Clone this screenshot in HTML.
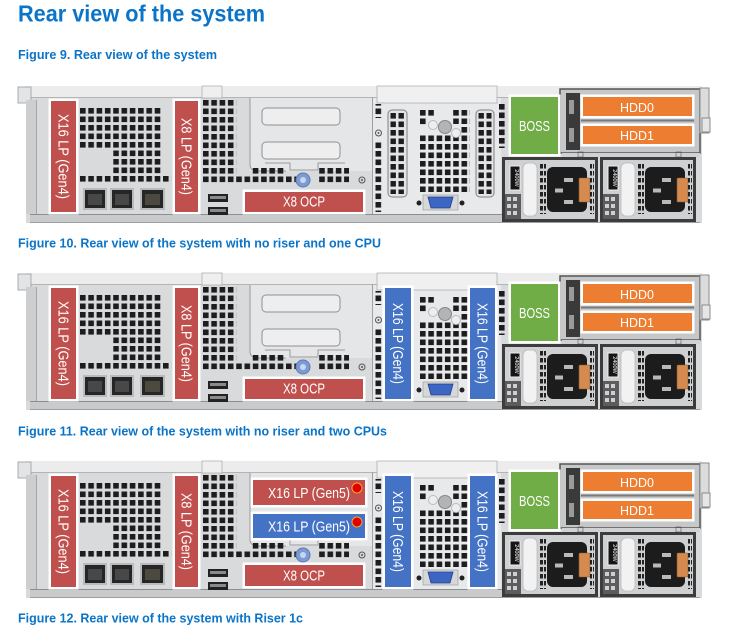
<!DOCTYPE html>
<html><head><meta charset="utf-8">
<style>
html,body{margin:0;padding:0;background:#fff;}
svg{display:block;}
</style></head><body>
<svg width="734" height="627" viewBox="0 0 734 627" xmlns="http://www.w3.org/2000/svg" xmlns:xlink="http://www.w3.org/1999/xlink" font-family="'Liberation Sans', sans-serif">
<defs>
<pattern id="p1" x="80" y="108" width="8.3" height="8.5" patternUnits="userSpaceOnUse"><rect width="5.6" height="5.6" fill="#1d1d1d"/></pattern>
<pattern id="p2" x="203" y="100" width="8.3" height="8.5" patternUnits="userSpaceOnUse"><rect width="5.6" height="5.6" fill="#1d1d1d"/></pattern>
<pattern id="p3" x="420" y="110" width="8.3" height="8.5" patternUnits="userSpaceOnUse"><rect width="5.6" height="5.6" fill="#1d1d1d"/></pattern>
<pattern id="p4" x="375.5" y="100" width="8.3" height="8.5" patternUnits="userSpaceOnUse"><rect width="5.6" height="5.6" fill="#1d1d1d"/></pattern>
<pattern id="p5" x="499" y="104" width="8.3" height="8.5" patternUnits="userSpaceOnUse"><rect width="5.6" height="5.6" fill="#1d1d1d"/></pattern>
<pattern id="p6" x="390.5" y="113" width="8" height="8.5" patternUnits="userSpaceOnUse"><rect width="5.4" height="5.6" fill="#1d1d1d"/></pattern>
<pattern id="p7" x="478.5" y="113" width="8" height="8.5" patternUnits="userSpaceOnUse"><rect width="5.4" height="5.6" fill="#1d1d1d"/></pattern>
<pattern id="pp" x="0" y="164" width="7" height="7" patternUnits="userSpaceOnUse"><rect width="6" height="4.5" fill="#222"/></pattern>

<g id="psu">
  <rect x="0" y="157" width="96" height="65" fill="#3c3c3d"/>
  <rect x="3" y="160" width="90" height="59" fill="#cfd0d2"/>
  <rect x="3" y="194" width="16" height="25" fill="#5c5c5e"/>
  <rect x="5" y="197" width="4" height="4" fill="#cfcfcf"/><rect x="11" y="197" width="4" height="4" fill="#cfcfcf"/>
  <rect x="5" y="204" width="4" height="4" fill="#cfcfcf"/><rect x="11" y="204" width="4" height="4" fill="#cfcfcf"/>
  <rect x="5" y="211" width="4" height="4" fill="#cfcfcf"/><rect x="11" y="211" width="4" height="4" fill="#cfcfcf"/>
  <rect x="8" y="166" width="10" height="24" fill="#151515" stroke="#eeeeee" stroke-width="1"/>
  <rect x="21" y="163" width="14" height="53" rx="5" fill="#f2f2f3" stroke="#b9babc" stroke-width="0.8"/>
  <rect x="38" y="164" width="6" height="50" fill="url(#pp)"/>
  <rect x="45" y="167" width="40" height="45" rx="6" fill="#1c1c1c"/>
  <rect x="62" y="178" width="9" height="4" fill="#b9b9b9"/>
  <rect x="53" y="188.5" width="8" height="4" fill="#b9b9b9"/>
  <rect x="62" y="200" width="9" height="4" fill="#b9b9b9"/>
  <rect x="77" y="178" width="11" height="24" rx="1" fill="#d58b4f" stroke="#8a5a30" stroke-width="0.6"/>
  <rect x="88" y="164" width="4" height="50" fill="url(#pp)"/>
</g>

<g id="ch">
  <!-- body -->
  <rect x="26" y="86" width="676" height="137" fill="#d9dadc"/>
  <rect x="26" y="86" width="676" height="11" fill="#ececed"/>
  <line x1="26" y1="97.5" x2="560" y2="97.5" stroke="#b3b4b6"/>
  <rect x="18" y="87" width="13" height="16" fill="#e3e4e5" stroke="#9a9b9d" stroke-width="0.8"/>
  <rect x="202" y="86" width="20" height="12" fill="#efeff0" stroke="#a8a9ab" stroke-width="0.7"/>
  <rect x="26" y="100" width="10" height="114" fill="#cdced0"/>
  <line x1="36.5" y1="100" x2="36.5" y2="214" stroke="#a5a6a8"/>
  <rect x="30" y="214" width="475" height="9" fill="#c9cacc"/>
  <line x1="30" y1="214.5" x2="505" y2="214.5" stroke="#8d8e90"/>
  <line x1="30" y1="222.5" x2="700" y2="222.5" stroke="#9d9ea0"/>

  <!-- grille 1 -->
  <rect x="80" y="108" width="83" height="42.5" fill="url(#p1)"/>
  <rect x="113.2" y="150.5" width="49.8" height="25.5" fill="url(#p1)"/>
  <rect x="55.1" y="176" width="116" height="6" fill="url(#p1)"/>

  <!-- ethernet -->
  <rect x="83" y="188" width="24" height="22" fill="#b9babc"/>
  <rect x="85" y="190" width="20" height="18" fill="#262626"/>
  <rect x="88" y="194" width="14" height="11" fill="#484848"/>
  <rect x="110" y="188" width="24" height="22" fill="#b9babc"/>
  <rect x="112" y="190" width="20" height="18" fill="#262626"/>
  <rect x="115" y="194" width="14" height="11" fill="#484848"/>
  <rect x="140" y="188" width="25" height="22" fill="#b9babc"/>
  <rect x="142" y="190" width="21" height="18" fill="#262626"/>
  <rect x="145" y="194" width="15" height="11" fill="#4c4a3e"/>

  <!-- grille 2 -->
  <rect x="203" y="100" width="33.2" height="76.5" fill="url(#p2)"/>
  <rect x="203" y="176.5" width="97" height="6" fill="url(#p2)"/>
  <rect x="319" y="176.5" width="30" height="6" fill="url(#p2)"/>

  <!-- usb -->
  <rect x="208" y="194" width="20" height="8" fill="#222"/>
  <rect x="210" y="196" width="16" height="3" fill="#8a8a8a"/>
  <rect x="208" y="207" width="20" height="8" fill="#222"/>
  <rect x="210" y="209" width="16" height="3" fill="#8a8a8a"/>

  <!-- riser cage -->
  <rect x="250" y="98" width="122" height="73" fill="#e5e6e7"/>
  <path d="M250 98 V164 Q250 171 257 171 H286" fill="none" stroke="#9a9b9d"/>
  <rect x="262" y="108" width="78" height="17" rx="4" fill="#eeeeef" stroke="#8f9092"/>
  <rect x="262" y="142" width="78" height="17" rx="4" fill="#eeeeef" stroke="#8f9092"/>
  <path d="M265 163 H290 V170 H318 V163 H345" fill="none" stroke="#9a9b9d"/>
  <rect x="251" y="168" width="34" height="6" fill="url(#p2)"/>
  <rect x="319" y="168" width="30" height="6" fill="url(#p2)"/>
  <circle cx="303" cy="180" r="7" fill="#7d9bd3" stroke="#5a7ab8"/>
  <circle cx="303" cy="180" r="3" fill="#c8d6f0"/>
  <circle cx="362" cy="180" r="3" fill="none" stroke="#555"/>
  <circle cx="362" cy="180" r="1" fill="#555"/>

  <!-- middle section -->
  <rect x="373" y="98" width="128" height="116" fill="#e8e9ea"/>
  <line x1="372.5" y1="97" x2="372.5" y2="214" stroke="#a0a1a3"/>
  <rect x="377" y="86" width="120" height="17" fill="#f0f0f1" stroke="#b0b1b3" stroke-width="0.8"/>
  <rect x="375.5" y="104" width="6" height="14" fill="url(#p4)"/>
  <circle cx="378.5" cy="133" r="3" fill="none" stroke="#555"/>
  <circle cx="378.5" cy="133" r="1" fill="#555"/>
  <rect x="375.5" y="142" width="6" height="70" fill="url(#p4)"/>
  <rect x="388" y="110" width="19" height="87" rx="4" fill="#e3e4e5" stroke="#7f8082"/>
  <rect x="390.5" y="113" width="14" height="81" fill="url(#p6)"/>
  <rect x="476" y="110" width="18" height="87" rx="4" fill="#e3e4e5" stroke="#7f8082"/>
  <rect x="478.5" y="113" width="13" height="81" fill="url(#p7)"/>
  <!-- middle grille -->
  <rect x="420" y="135.5" width="50" height="56.5" fill="url(#p3)"/>
  <rect x="420" y="110" width="6" height="17" fill="url(#p3)"/>
  <rect x="428" y="110" width="6" height="6" fill="url(#p3)"/>
  <rect x="453" y="110" width="17" height="14" fill="url(#p3)"/>
  <rect x="461" y="127" width="9" height="6" fill="url(#p3)"/>
  <circle cx="433" cy="125" r="4.5" fill="#eeeeef" stroke="#bbbbbd"/>
  <circle cx="456" cy="133" r="4.5" fill="#eeeeef" stroke="#bbbbbd"/>
  <circle cx="445" cy="127" r="6.5" fill="#b3b4b6" stroke="#858688"/>
  <rect x="423" y="195" width="35" height="15" fill="#d6d7d9" stroke="#a0a0a2" stroke-width="0.7"/>
  <path d="M428 197 L453 197 L450 208 L431 208 Z" fill="#3d66c4" stroke="#1f3f8a" stroke-width="0.8"/>
  <circle cx="419" cy="203" r="2.5" fill="#222"/>
  <circle cx="462" cy="203" r="2.5" fill="#222"/>
  <rect x="499" y="104" width="6" height="44" fill="url(#p5)"/>

  <!-- right section -->
  <rect x="560" y="89" width="140" height="64" fill="#c6c7c9" stroke="#555" stroke-width="1.5"/>
  <rect x="566" y="93" width="14" height="57" fill="#3a3a3b"/>
  <rect x="569" y="100" width="5" height="14" fill="#9a9a9a"/>
  <rect x="569" y="128" width="5" height="14" fill="#9a9a9a"/>
  <rect x="562" y="153" width="138" height="4" fill="#d0d1d3"/>
  <rect x="578" y="152" width="5" height="5" fill="none" stroke="#555" stroke-width="0.6"/>
  <rect x="676" y="152" width="5" height="5" fill="none" stroke="#555" stroke-width="0.6"/>
  <rect x="700" y="88" width="9" height="45" fill="#dcdcdd" stroke="#8a8b8d"/>
  <rect x="702" y="118" width="8" height="14" fill="#e6e6e7" stroke="#8a8b8d"/>
  <use xlink:href="#psu" href="#psu" transform="translate(502,0)"/>
  <use xlink:href="#psu" href="#psu" transform="translate(600,0)"/>
</g>
</defs>

<!-- Title -->
<text x="18" y="21.5" font-size="23" font-weight="bold" fill="#0a74c8" textLength="247" lengthAdjust="spacingAndGlyphs">Rear view of the system</text>

<text x="18" y="59" font-size="12.5" font-weight="bold" fill="#0a74c8" textLength="199" lengthAdjust="spacingAndGlyphs">Figure 9. Rear view of the system</text>
<text x="18" y="247.5" font-size="12.5" font-weight="bold" fill="#0a74c8" textLength="363" lengthAdjust="spacingAndGlyphs">Figure 10. Rear view of the system with no riser and one CPU</text>
<text x="18" y="435.5" font-size="12.5" font-weight="bold" fill="#0a74c8" textLength="369" lengthAdjust="spacingAndGlyphs">Figure 11. Rear view of the system with no riser and two CPUs</text>
<text x="18" y="622.5" font-size="12.5" font-weight="bold" fill="#0a74c8" textLength="285" lengthAdjust="spacingAndGlyphs">Figure 12. Rear view of the system with Riser 1c</text>

<!-- ================= Figure 9 ================= -->
<g>
  <use xlink:href="#ch" href="#ch"/>
  <rect x="48.5" y="98.5" width="30" height="116" fill="#fff"/>
  <rect x="51" y="101" width="25" height="111" fill="#c0504d"/>
  <text x="63.5" y="161.5" font-size="15" fill="#fff" text-anchor="middle" textLength="85" lengthAdjust="spacingAndGlyphs" transform="rotate(90 63.5 156.5)">X16 LP (Gen4)</text>
  <rect x="172.5" y="98.5" width="28" height="116" fill="#fff"/>
  <rect x="175" y="101" width="23" height="111" fill="#c0504d"/>
  <text x="186.5" y="161.5" font-size="15" fill="#fff" text-anchor="middle" textLength="77" lengthAdjust="spacingAndGlyphs" transform="rotate(90 186.5 156.5)">X8 LP (Gen4)</text>
  <rect x="242.5" y="189.5" width="123" height="25" fill="#fff"/>
  <rect x="245" y="192" width="118" height="20" fill="#c0504d"/>
  <text x="304" y="206.5" font-size="15" fill="#fff" text-anchor="middle" textLength="42" lengthAdjust="spacingAndGlyphs">X8 OCP</text>
  <rect x="508.5" y="94.5" width="52" height="62" fill="#fff"/>
  <rect x="511" y="97" width="47" height="57" fill="#70ad47"/>
  <text x="534.5" y="131" font-size="15" fill="#fff" text-anchor="middle" textLength="31" lengthAdjust="spacingAndGlyphs">BOSS</text>
  <rect x="580.5" y="94.5" width="114" height="24" fill="#fff"/>
  <rect x="583" y="97" width="109" height="19" fill="#ed7d31"/>
  <text x="637" y="112" font-size="13" fill="#fff" text-anchor="middle" textLength="34" lengthAdjust="spacingAndGlyphs">HDD0</text>
  <rect x="580.5" y="123.5" width="114" height="23" fill="#fff"/>
  <rect x="583" y="126" width="109" height="18" fill="#ed7d31"/>
  <text x="637" y="140" font-size="13" fill="#fff" text-anchor="middle" textLength="34" lengthAdjust="spacingAndGlyphs">HDD1</text>
  <line x1="581" y1="120.5" x2="694" y2="120.5" stroke="#7a7a7a" stroke-width="2"/>
  <text x="0" y="0" font-size="5.5" fill="#fff" text-anchor="middle" transform="translate(515,178) rotate(90)">2400W</text>
  <text x="0" y="0" font-size="5.5" fill="#fff" text-anchor="middle" transform="translate(613,178) rotate(90)">2400W</text>
</g>

<!-- ================= Figure 10 ================= -->
<g transform="translate(0,187)">
  <use xlink:href="#ch" href="#ch"/>
  <rect x="48.5" y="98.5" width="30" height="116" fill="#fff"/>
  <rect x="51" y="101" width="25" height="111" fill="#c0504d"/>
  <text x="63.5" y="161.5" font-size="15" fill="#fff" text-anchor="middle" textLength="85" lengthAdjust="spacingAndGlyphs" transform="rotate(90 63.5 156.5)">X16 LP (Gen4)</text>
  <rect x="172.5" y="98.5" width="28" height="116" fill="#fff"/>
  <rect x="175" y="101" width="23" height="111" fill="#c0504d"/>
  <text x="186.5" y="161.5" font-size="15" fill="#fff" text-anchor="middle" textLength="77" lengthAdjust="spacingAndGlyphs" transform="rotate(90 186.5 156.5)">X8 LP (Gen4)</text>
  <rect x="242.5" y="189.5" width="123" height="25" fill="#fff"/>
  <rect x="245" y="192" width="118" height="20" fill="#c0504d"/>
  <text x="304" y="206.5" font-size="15" fill="#fff" text-anchor="middle" textLength="42" lengthAdjust="spacingAndGlyphs">X8 OCP</text>
  <rect x="382.5" y="98.5" width="31" height="116" fill="#fff"/>
  <rect x="385" y="101" width="26" height="111" fill="#4472c4"/>
  <text x="398" y="161.5" font-size="15" fill="#fff" text-anchor="middle" textLength="81" lengthAdjust="spacingAndGlyphs" transform="rotate(90 398 156.5)">X16 LP (Gen4)</text>
  <rect x="467.5" y="98.5" width="30" height="116" fill="#fff"/>
  <rect x="470" y="101" width="25" height="111" fill="#4472c4"/>
  <text x="482.5" y="161.5" font-size="15" fill="#fff" text-anchor="middle" textLength="81" lengthAdjust="spacingAndGlyphs" transform="rotate(90 482.5 156.5)">X16 LP (Gen4)</text>
  <rect x="508.5" y="94.5" width="52" height="62" fill="#fff"/>
  <rect x="511" y="97" width="47" height="57" fill="#70ad47"/>
  <text x="534.5" y="131" font-size="15" fill="#fff" text-anchor="middle" textLength="31" lengthAdjust="spacingAndGlyphs">BOSS</text>
  <rect x="580.5" y="94.5" width="114" height="24" fill="#fff"/>
  <rect x="583" y="97" width="109" height="19" fill="#ed7d31"/>
  <text x="637" y="112" font-size="13" fill="#fff" text-anchor="middle" textLength="34" lengthAdjust="spacingAndGlyphs">HDD0</text>
  <rect x="580.5" y="123.5" width="114" height="23" fill="#fff"/>
  <rect x="583" y="126" width="109" height="18" fill="#ed7d31"/>
  <text x="637" y="140" font-size="13" fill="#fff" text-anchor="middle" textLength="34" lengthAdjust="spacingAndGlyphs">HDD1</text>
  <line x1="581" y1="120.5" x2="694" y2="120.5" stroke="#7a7a7a" stroke-width="2"/>
  <text x="0" y="0" font-size="5.5" fill="#fff" text-anchor="middle" transform="translate(515,178) rotate(90)">2400W</text>
  <text x="0" y="0" font-size="5.5" fill="#fff" text-anchor="middle" transform="translate(613,178) rotate(90)">2400W</text>
</g>

<!-- ================= Figure 12 ================= -->
<g transform="translate(0,375)">
  <use xlink:href="#ch" href="#ch"/>
  <rect x="48.5" y="98.5" width="30" height="116" fill="#fff"/>
  <rect x="51" y="101" width="25" height="111" fill="#c0504d"/>
  <text x="63.5" y="161.5" font-size="15" fill="#fff" text-anchor="middle" textLength="85" lengthAdjust="spacingAndGlyphs" transform="rotate(90 63.5 156.5)">X16 LP (Gen4)</text>
  <rect x="172.5" y="98.5" width="28" height="116" fill="#fff"/>
  <rect x="175" y="101" width="23" height="111" fill="#c0504d"/>
  <text x="186.5" y="161.5" font-size="15" fill="#fff" text-anchor="middle" textLength="77" lengthAdjust="spacingAndGlyphs" transform="rotate(90 186.5 156.5)">X8 LP (Gen4)</text>
  <rect x="250.5" y="102.5" width="117" height="30" fill="#fff"/>
  <rect x="253" y="105" width="112" height="25" fill="#c0504d"/>
  <text x="309" y="123" font-size="15" fill="#fff" text-anchor="middle" textLength="82" lengthAdjust="spacingAndGlyphs">X16 LP (Gen5)</text>
  <circle cx="357" cy="113" r="5" fill="#e00000" stroke="#f4a430" stroke-width="1"/>
  <rect x="250.5" y="136.5" width="117" height="29" fill="#fff"/>
  <rect x="253" y="139" width="112" height="24" fill="#4472c4"/>
  <text x="309" y="156.5" font-size="15" fill="#fff" text-anchor="middle" textLength="82" lengthAdjust="spacingAndGlyphs">X16 LP (Gen5)</text>
  <circle cx="357" cy="147" r="5" fill="#e00000" stroke="#f4a430" stroke-width="1"/>
  <rect x="242.5" y="187.5" width="123" height="26" fill="#fff"/>
  <rect x="245" y="190" width="118" height="21" fill="#c0504d"/>
  <text x="304" y="205.5" font-size="15" fill="#fff" text-anchor="middle" textLength="42" lengthAdjust="spacingAndGlyphs">X8 OCP</text>
  <rect x="382.5" y="98.5" width="31" height="116" fill="#fff"/>
  <rect x="385" y="101" width="26" height="111" fill="#4472c4"/>
  <text x="398" y="161.5" font-size="15" fill="#fff" text-anchor="middle" textLength="81" lengthAdjust="spacingAndGlyphs" transform="rotate(90 398 156.5)">X16 LP (Gen4)</text>
  <rect x="467.5" y="98.5" width="30" height="116" fill="#fff"/>
  <rect x="470" y="101" width="25" height="111" fill="#4472c4"/>
  <text x="482.5" y="161.5" font-size="15" fill="#fff" text-anchor="middle" textLength="81" lengthAdjust="spacingAndGlyphs" transform="rotate(90 482.5 156.5)">X16 LP (Gen4)</text>
  <rect x="508.5" y="94.5" width="52" height="62" fill="#fff"/>
  <rect x="511" y="97" width="47" height="57" fill="#70ad47"/>
  <text x="534.5" y="131" font-size="15" fill="#fff" text-anchor="middle" textLength="31" lengthAdjust="spacingAndGlyphs">BOSS</text>
  <rect x="580.5" y="94.5" width="114" height="24" fill="#fff"/>
  <rect x="583" y="97" width="109" height="19" fill="#ed7d31"/>
  <text x="637" y="112" font-size="13" fill="#fff" text-anchor="middle" textLength="34" lengthAdjust="spacingAndGlyphs">HDD0</text>
  <rect x="580.5" y="123.5" width="114" height="23" fill="#fff"/>
  <rect x="583" y="126" width="109" height="18" fill="#ed7d31"/>
  <text x="637" y="140" font-size="13" fill="#fff" text-anchor="middle" textLength="34" lengthAdjust="spacingAndGlyphs">HDD1</text>
  <line x1="581" y1="120.5" x2="694" y2="120.5" stroke="#7a7a7a" stroke-width="2"/>
  <text x="0" y="0" font-size="5.5" fill="#fff" text-anchor="middle" transform="translate(515,178) rotate(90)">2400W</text>
  <text x="0" y="0" font-size="5.5" fill="#fff" text-anchor="middle" transform="translate(613,178) rotate(90)">2400W</text>
</g>
</svg>
</body></html>
